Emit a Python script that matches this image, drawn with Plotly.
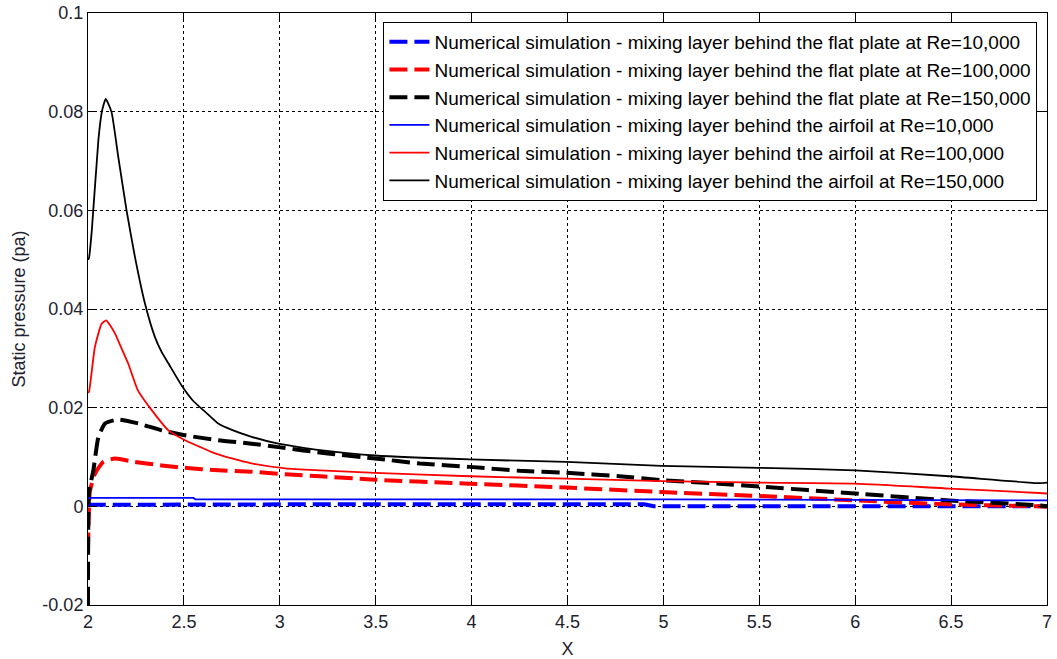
import plotly.graph_objects as go

# Flat plate wakes (dashed)
fp10_x = [2.0, 2.01, 3.0, 4.9, 4.95, 6.0, 7.0]
fp10_y = [0.0001, 0.0003, 0.0004, 0.0004, 0.0, 0.0001, 0.0]

fp100_x = [2.0, 2.01, 2.036, 2.08, 2.141, 2.245, 2.384, 2.506, 2.679, 2.853, 3.03,
           3.21, 3.496, 3.99, 4.495, 4.99, 5.5, 6.0, 6.49, 6.96, 7.0]
fp100_y = [-0.009, 0.003, 0.0066, 0.009, 0.0097, 0.009, 0.0083, 0.0078, 0.0073, 0.007, 0.0065,
           0.0061, 0.0054, 0.0046, 0.0038, 0.0029, 0.0021, 0.0012, 0.0004, 0.0, -0.0001]

fp150_x = [2.0, 2.006, 2.028, 2.054, 2.089, 2.158, 2.262, 2.384, 2.506, 2.679, 2.853, 2.992,
           3.25, 3.496, 3.73, 3.99, 4.25, 4.495, 4.77, 4.99, 5.29, 5.5, 6.0, 6.49, 6.96, 7.0]
fp150_y = [-0.02, 0.003, 0.0073, 0.014, 0.0168, 0.0176, 0.0168, 0.0154, 0.0144, 0.0134, 0.0127, 0.012,
           0.0107, 0.0097, 0.0087, 0.008, 0.0072, 0.0068, 0.0061, 0.0053, 0.0046, 0.004, 0.0026, 0.0012, 0.0002, 0.0]

# Airfoil wakes (solid)
af10_x = [2.0, 2.01, 2.55, 2.56, 5.0, 6.0, 7.0]
af10_y = [0.0016, 0.0017, 0.0017, 0.0014, 0.0014, 0.0013, 0.0012]

af100_x = [2.0, 2.005, 2.036, 2.071, 2.094, 2.115, 2.141, 2.175, 2.21, 2.26, 2.332, 2.419, 2.506,
           2.58, 2.645, 2.75, 2.853, 3.03, 3.21, 3.496, 3.99, 4.495, 4.99, 5.5, 6.0, 6.49, 6.96, 7.0]
af100_y = [0.023, 0.0232, 0.0323, 0.037, 0.0377, 0.0367, 0.035, 0.032, 0.0289, 0.0235, 0.0195, 0.0154, 0.0134,
           0.0121, 0.011, 0.0097, 0.0087, 0.0077, 0.0073, 0.0068, 0.0061, 0.0056, 0.0051, 0.0048, 0.0046,
           0.0036, 0.0027, 0.0026]

af150_x = [2.0, 2.005, 2.02, 2.054, 2.071, 2.082, 2.092, 2.104, 2.124, 2.158, 2.201, 2.245, 2.297,
           2.349, 2.385, 2.419, 2.488, 2.55, 2.61, 2.679, 2.75, 2.853, 2.992, 3.1, 3.21, 3.496, 3.99, 4.495,
           4.99, 5.5, 6.0, 6.49, 6.96, 7.0]
af150_y = [0.050, 0.0503, 0.056, 0.0742, 0.0797, 0.0815, 0.0826, 0.0818, 0.0797, 0.0708, 0.060, 0.0505, 0.0411,
           0.0343, 0.0312, 0.029, 0.0245, 0.0213, 0.0192, 0.0168, 0.0155, 0.0141, 0.0127, 0.012, 0.0114, 0.0103,
           0.0095, 0.009, 0.0082, 0.0078, 0.0073, 0.0061, 0.0047, 0.0048]

x_ticks = [2, 2.5, 3, 3.5, 4, 4.5, 5, 5.5, 6, 6.5, 7]
x_tick_text = ["2", "2.5", "3", "3.5", "4", "4.5", "5", "5.5", "6", "6.5", "7"]
y_ticks = [-0.02, 0, 0.02, 0.04, 0.06, 0.08, 0.1]
y_tick_text = ["-0.02", "0", "0.02", "0.04", "0.06", "0.08", "0.1"]

base = "Numerical simulation - mixing layer behind the "
# (x, y, label, colour, dashed?, smooth?)
series = [
    (fp10_x, fp10_y, base + "flat plate at Re=10,000", "#0000ff", True, False),
    (fp100_x, fp100_y, base + "flat plate at Re=100,000", "#ff0000", True, True),
    (fp150_x, fp150_y, base + "flat plate at Re=150,000", "#000000", True, True),
    (af10_x, af10_y, base + "airfoil at Re=10,000", "#0000ff", False, False),
    (af100_x, af100_y, base + "airfoil at Re=100,000", "#ff0000", False, True),
    (af150_x, af150_y, base + "airfoil at Re=150,000", "#000000", False, True),
]

fig = go.Figure()
for xs, ys, name, color, dashed, smooth in series:
    line = dict(color=color, width=4 if dashed else 1.8)
    if dashed:
        line["dash"] = "18px,7px"
    if smooth:
        line["shape"] = "spline"
        line["smoothing"] = 0.5
    fig.add_trace(go.Scatter(x=xs, y=ys, mode="lines", name=name, line=line))

text_color = "#22222e"
axis_common = dict(
    showline=True, linecolor="black", linewidth=1, mirror="ticks",
    ticks="inside", ticklen=9, tickcolor="black",
    showgrid=True, gridcolor="black", gridwidth=1, griddash="3px,3px",
    zeroline=False, automargin=False,
    tickfont=dict(family="Liberation Sans, Arial", size=18, color=text_color),
)

fig.update_layout(
    width=1057, height=659,
    margin=dict(l=88, r=10, t=13, b=54),
    paper_bgcolor="white", plot_bgcolor="white",
    font=dict(family="Liberation Sans, Arial", color=text_color),
    xaxis=dict(range=[2, 7], tickvals=x_ticks, ticktext=x_tick_text,
               title=dict(text="X", font=dict(size=18), standoff=12), **axis_common),
    yaxis=dict(range=[-0.02, 0.1], tickvals=y_ticks, ticktext=y_tick_text,
               title=dict(text="Static pressure (pa)", font=dict(size=18), standoff=12), **axis_common),
    legend=dict(
        x=0.990, y=0.9848, xanchor="right", yanchor="top",
        bgcolor="white", bordercolor="black", borderwidth=1,
        font=dict(family="Liberation Sans, Arial", size=19, color="black"),
        tracegroupgap=0, itemwidth=40,
    ),
    showlegend=True,
)

fig.write_html("out.html")
